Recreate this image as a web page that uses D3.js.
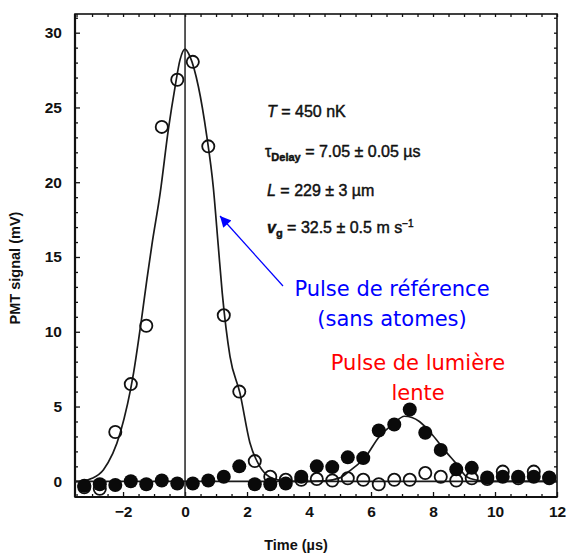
<!DOCTYPE html>
<html>
<head>
<meta charset="utf-8">
<script src="https://cdn.jsdelivr.net/npm/d3@7"></script>
<style>
  body { margin: 0; background: #fff; }
</style>
</head>
<body>
<svg id="chart" width="566" height="554"></svg>
<script>
// time of each measurement (µs)
var timeSteps = [-3.25, -2.75, -2.25, -1.75, -1.25, -0.75, -0.25, 0.25, 0.75, 1.25, 1.75,
  2.25, 2.75, 3.25, 3.75, 4.25, 4.75, 5.25, 5.75, 6.25, 6.75, 7.25, 7.75, 8.25, 8.75,
  9.25, 9.75, 10.25, 10.75, 11.25, 11.75];

// open circles : reference pulse (no atoms), mV
var refSignal = [-0.4, -0.5, 3.3, 6.5, 10.4, 23.7, 26.85, 28.05, 22.4, 11.1, 6.0,
  1.35, 0.3, 0.1, 0.1, 0.15, 0.05, 0.2, 0.1, -0.2, 0.1, 0.1, 0.55, 0.3, 0.05,
  0.2, 0.15, 0.65, 0.2, 0.65, 0.2];

// filled circles : slow light pulse, mV
var slowSignal = [-0.3, -0.2, -0.25, 0.0, -0.2, 0.05, -0.15, -0.15, 0.05, 0.3, 1.0,
  -0.2, -0.2, -0.15, 0.3, 1.0, 0.95, 1.6, 1.55, 3.4, 3.8, 4.8, 3.25, 2.1, 0.8,
  0.9, 0.25, 0.3, 0.3, 0.3, 0.25];

// fitted curves
var refFitT = [-3.55, -3.3, -3.0, -2.63, -2.09, -1.66, -1.42, -1.23, -1.07, -0.8, -0.54, -0.32, -0.16,
  0, 0.16, 0.43, 0.7, 0.91, 1.07, 1.2, 1.45, 1.77, 2.09, 2.41, 2.73, 3.1, 3.5, 12];
var refFitV = [0, 0.02, 0.2, 0.78, 3.24, 7.25, 10.6, 13.5, 15.8, 19.3, 23.5, 26.4, 28.2,
  28.9, 28.4, 26.4, 23.1, 19.7, 15.8, 12.6, 8.36, 5.91, 2.6, 1.0, 0.29, 0.05, 0, 0];

var slowFitT = [-3.55, 4.0, 4.5, 4.99, 5.31, 5.82, 6.27, 6.7, 7.08, 7.56, 7.99, 8.42, 8.75, 9.07, 9.4, 9.8, 12];
var slowFitV = [0, 0, 0.03, 0.23, 0.7, 1.63, 3.0, 3.8, 4.35, 4.0, 3.08, 1.97, 1.18, 0.33, 0.08, 0, 0];

var xTicks = [-2, 0, 2, 4, 6, 8, 10, 12];
var yTicks = [0, 5, 10, 15, 20, 25, 30];

var plotL = 75, plotR = 557, plotT = 14, plotB = 497;

var svg = d3.select('#chart');

var x = d3.scaleLinear().domain([-3.55, 12]).range([plotL, plotR]);
var y = d3.scaleLinear().domain([-1.05, 31.25]).range([plotB, plotT]);

var xMinor = d3.range(-3.5, 12.01, 0.5).filter(function(d) { return xTicks.indexOf(d) < 0; });
var yMinor = d3.range(-1, 31.01, 1).filter(function(d) { return yTicks.indexOf(d) < 0; });

var tickFont = '"Liberation Sans Narrow", "Liberation Sans", Arial, sans-serif';

// axes : ticks pointing inwards
function styleAxis(g) {
  g.select('.domain').remove();
  g.selectAll('line').attr('stroke', '#111').attr('stroke-width', 1.3);
  g.selectAll('text').attr('fill', '#111').style('font-family', tickFont)
    .style('font-size', '15.5px').style('font-weight', 'bold');
}

svg.append('g').attr('transform', 'translate(0,' + plotB + ')')
  .call(d3.axisBottom(x).tickValues(xTicks).tickSize(-5).tickPadding(9)
    .tickFormat(function(d) { return d < 0 ? '\u2212' + Math.abs(d) : d; }))
  .call(styleAxis);
svg.append('g').attr('transform', 'translate(0,' + plotB + ')')
  .call(d3.axisBottom(x).tickValues(xMinor).tickSize(-3).tickFormat(''))
  .call(styleAxis);
svg.append('g').attr('transform', 'translate(0,' + plotT + ')')
  .call(d3.axisTop(x).tickValues(d3.range(-3.5, 12.01, 0.5)).tickSize(-3).tickFormat(''))
  .call(styleAxis);

svg.append('g').attr('transform', 'translate(' + plotL + ',0)')
  .call(d3.axisLeft(y).tickValues(yTicks).tickSize(-5).tickPadding(13))
  .call(styleAxis);
svg.append('g').attr('transform', 'translate(' + plotL + ',0)')
  .call(d3.axisLeft(y).tickValues(yMinor).tickSize(-3).tickFormat(''))
  .call(styleAxis);
svg.append('g').attr('transform', 'translate(' + plotR + ',0)')
  .call(d3.axisRight(y).tickValues(d3.range(-1, 31.01, 1)).tickSize(-3).tickFormat(''))
  .call(styleAxis);

// frame
svg.append('rect')
  .attr('x', plotL).attr('y', plotT)
  .attr('width', plotR - plotL).attr('height', plotB - plotT)
  .attr('fill', 'none').attr('stroke', '#111').attr('stroke-width', 1.6);
svg.append('line')
  .attr('x1', plotL).attr('x2', plotL).attr('y1', plotT).attr('y2', plotB)
  .attr('stroke', '#111').attr('stroke-width', 2.2);
svg.append('line')
  .attr('x1', plotL).attr('x2', plotR).attr('y1', plotB).attr('y2', plotB)
  .attr('stroke', '#111').attr('stroke-width', 2.2);

// vertical line at t = 0
svg.append('line')
  .attr('x1', x(0)).attr('x2', x(0)).attr('y1', plotT).attr('y2', plotB)
  .attr('stroke', '#222').attr('stroke-width', 1.5);

// fitted curves
var line = d3.line()
  .x(function(d) { return x(d[0]); })
  .y(function(d) { return y(d[1]); })
  .curve(d3.curveMonotoneX);

svg.append('path')
  .datum(d3.zip(refFitT, refFitV))
  .attr('d', line)
  .attr('fill', 'none').attr('stroke', '#1a1a1a').attr('stroke-width', 1.7);
svg.append('path')
  .datum(d3.zip(slowFitT, slowFitV))
  .attr('d', line)
  .attr('fill', 'none').attr('stroke', '#1a1a1a').attr('stroke-width', 1.7);

// data points
svg.append('g').selectAll('circle')
  .data(d3.zip(timeSteps, refSignal))
  .join('circle')
  .attr('cx', function(d) { return x(d[0]); })
  .attr('cy', function(d) { return y(d[1]); })
  .attr('r', 6.1)
  .attr('fill', 'none').attr('stroke', '#111').attr('stroke-width', 1.8);

svg.append('g').selectAll('circle')
  .data(d3.zip(timeSteps, slowSignal))
  .join('circle')
  .attr('cx', function(d) { return x(d[0]); })
  .attr('cy', function(d) { return y(d[1]); })
  .attr('r', 7)
  .attr('fill', '#0a0a0a');

// axis titles
svg.append('text')
  .attr('x', 296).attr('y', 550)
  .attr('text-anchor', 'middle')
  .style('font-family', '"Liberation Sans", Arial, sans-serif')
  .style('font-size', '14.5px').style('font-weight', 'bold')
  .attr('fill', '#111')
  .text('Time (\u00b5s)');

svg.append('text')
  .attr('transform', 'translate(20,268) rotate(-90)')
  .attr('text-anchor', 'middle')
  .style('font-family', '"Liberation Sans", Arial, sans-serif')
  .style('font-size', '14.5px').style('font-weight', 'bold')
  .attr('fill', '#111')
  .text('PMT signal (mV)');

// parameters
var params = svg.append('g')
  .style('font-family', '"Liberation Sans", Arial, sans-serif')
  .style('font-size', '16px')
  .attr('fill', '#111')
  .attr('stroke', '#111').attr('stroke-width', 0.45);

var t1 = params.append('text').attr('x', 267).attr('y', 117);
t1.append('tspan').style('font-style', 'italic').text('T');
t1.append('tspan').text(' = 450 nK');

var t2 = params.append('text').attr('x', 265).attr('y', 157);
t2.append('tspan').text('\u03c4');
t2.append('tspan').attr('dy', 4).style('font-size', '11px').style('font-weight', 'bold').text('Delay');
t2.append('tspan').attr('dy', -4).text(' = 7.05 \u00b1 0.05 \u00b5s');

var t3 = params.append('text').attr('x', 267).attr('y', 196);
t3.append('tspan').style('font-style', 'italic').text('L');
t3.append('tspan').text(' = 229 \u00b1 3 \u00b5m');

var t4 = params.append('text').attr('x', 267).attr('y', 233);
t4.append('tspan').style('font-style', 'italic').style('font-weight', 'bold').text('v');
t4.append('tspan').attr('dy', 4).style('font-size', '11px').style('font-weight', 'bold').text('g');
t4.append('tspan').attr('dy', -4).text(' = 32.5 \u00b1 0.5 m s');
t4.append('tspan').attr('dy', -6).style('font-size', '10px').text('\u22121');

// annotations
var comic = '"Comic Sans MS", "DejaVu Sans", sans-serif';

svg.append('defs').append('marker')
  .attr('id', 'head').attr('viewBox', '0 0 10 10')
  .attr('refX', 10).attr('refY', 5)
  .attr('markerWidth', 14).attr('markerHeight', 11)
  .attr('markerUnits', 'userSpaceOnUse')
  .attr('orient', 'auto')
  .append('path').attr('d', 'M0,0L10,5L0,10Z').attr('fill', '#0000ff');

svg.append('line')
  .attr('x1', 283).attr('y1', 286).attr('x2', 220).attr('y2', 216)
  .attr('stroke', '#0000ff').attr('stroke-width', 1.2)
  .attr('marker-end', 'url(#head)');

svg.append('text').attr('x', 392).attr('y', 296).attr('text-anchor', 'middle')
  .style('font-family', comic).style('font-size', '21px').attr('fill', '#0000ff')
  .text('Pulse de r\u00e9f\u00e9rence');
svg.append('text').attr('x', 392).attr('y', 326).attr('text-anchor', 'middle')
  .style('font-family', comic).style('font-size', '21px').attr('fill', '#0000ff')
  .text('(sans atomes)');

svg.append('text').attr('x', 418).attr('y', 370).attr('text-anchor', 'middle')
  .style('font-family', comic).style('font-size', '21px').attr('fill', '#ff0000')
  .text('Pulse de lumi\u00e8re');
svg.append('text').attr('x', 418).attr('y', 400).attr('text-anchor', 'middle')
  .style('font-family', comic).style('font-size', '21px').attr('fill', '#ff0000')
  .text('lente');
</script>
</body>
</html>
